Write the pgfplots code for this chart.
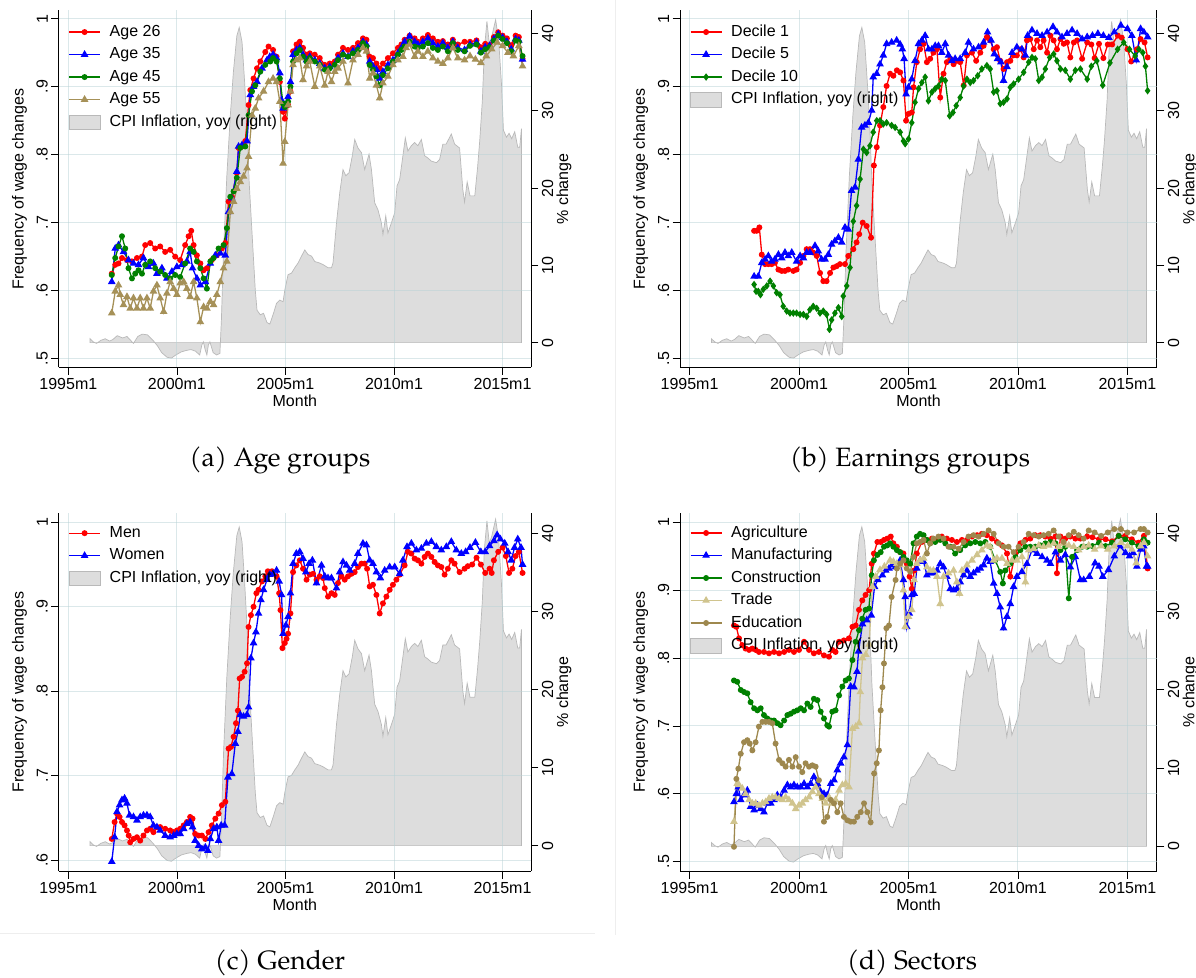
\documentclass[border=0pt]{standalone}
\usepackage{fontspec}
\setmainfont{Liberation Sans}
\newfontfamily\capfont{TeX Gyre Pagella}
\usepackage{pgfplots}
\usepackage{pgfplotstable}
\pgfplotsset{compat=1.18}
\newcommand{\basefnt}{\fontsize{16}{19}\selectfont}
\definecolor{sred}{RGB}{255,0,0}
\definecolor{sblue}{RGB}{0,0,255}
\definecolor{sgreen}{RGB}{0,128,0}
\definecolor{ssand}{RGB}{166,145,88}
\definecolor{strade}{RGB}{208,196,142}
\definecolor{sedu}{RGB}{158,136,78}
\definecolor{cpifill}{RGB}{221,221,221}
\definecolor{cpiline}{RGB}{185,185,185}
\definecolor{gridc}{RGB}{185,210,214}
\definecolor{sepc}{RGB}{238,238,238}

\pgfplotstableread{
t v
1996.00 0.5
1996.15 0.1
1996.30 -0.1
1996.50 0.3
1996.70 0.5
1996.90 0.2
1997.05 0.4
1997.25 0.9
1997.50 0.6
1997.70 0.8
1997.90 0.2
1998.00 -0.1
1998.20 0.8
1998.40 1.1
1998.65 1.0
1998.90 0.3
1999.10 -0.4
1999.30 -1.3
1999.55 -1.9
1999.75 -2.0
1999.95 -1.6
2000.20 -1.2
2000.45 -1.0
2000.65 -0.9
2000.85 -1.1
2001.05 -1.6
2001.15 -0.3
2001.22 0.1
2001.30 -0.9
2001.38 -1.6
2001.45 -0.3
2001.52 0.1
2001.67 -1.3
2001.83 -1.6
2001.98 -1.4
2002.05 3
2002.15 12
2002.30 21.6
2002.46 29.4
2002.60 35
2002.76 39.7
2002.87 40.8
2003.00 38.9
2003.12 33.7
2003.23 28.1
2003.33 20.7
2003.46 14.2
2003.61 6.8
2003.69 4.2
2003.84 3.6
2003.99 3.8
2004.15 2.6
2004.28 2.4
2004.45 3.8
2004.59 5.1
2004.74 5.5
2004.89 5.3
2004.97 6.8
2005.12 8.8
2005.28 9.0
2005.43 9.7
2005.58 10.3
2005.74 11.2
2005.89 12.0
2006.04 11.4
2006.20 11.2
2006.35 10.5
2006.58 10.3
2006.73 10.1
2006.96 9.7
2007.12 9.7
2007.19 10.3
2007.35 15.5
2007.50 19.4
2007.65 22.4
2007.78 21.6
2007.93 22.0
2008.08 24.2
2008.19 26.3
2008.34 25.2
2008.50 24.6
2008.65 22.4
2008.85 24.4
2008.96 22.4
2009.11 18.1
2009.26 17.2
2009.42 15.5
2009.49 14.0
2009.62 16.4
2009.72 14.2
2009.88 15.5
2010.03 16.8
2010.14 20.3
2010.26 21.1
2010.41 24.2
2010.52 26.5
2010.64 24.8
2010.80 25.5
2010.95 25.9
2011.10 25.5
2011.26 26.3
2011.41 24.2
2011.56 23.9
2011.72 23.5
2011.95 23.3
2012.10 23.7
2012.25 25.7
2012.40 25.7
2012.64 27.0
2012.79 25.7
2013.02 25.2
2013.17 19.8
2013.25 18.2
2013.37 20.8
2013.50 19.0
2013.72 19.0
2013.85 22.7
2013.95 26.2
2014.07 31.4
2014.16 37.9
2014.28 41.6
2014.39 38.7
2014.50 39.6
2014.68 41.8
2014.82 39.2
2014.95 33.5
2015.04 27.5
2015.18 26.6
2015.30 27.1
2015.42 26.4
2015.56 27.3
2015.70 25.3
2015.79 25.3
2015.87 27.7
}\cpidata

\pgfplotsset{
  common/.style={scale only axis, xmin=1994.56, xmax=2016.31,
    tick align=outside, major tick length=7.5pt,
    tick style={black, line width=0.8pt},
    axis line style={black, line width=0.9pt},
    font=\basefnt, tick label style={font=\basefnt}, label style={font=\basefnt}},
  mainax/.style={common, axis x line*=bottom, axis y line*=left,
    xtick={1995,2000,2005,2010,2015},
    xticklabels={1995m1,2000m1,2005m1,2010m1,2015m1},
    grid=major, major grid style={draw=gridc, draw opacity=0.5, line width=1pt},
    yticklabel style={rotate=90, anchor=south},
    xlabel={Month}, ylabel={Frequency of wage changes},
    xlabel style={at={(axis description cs:0.5,-0.093)}, anchor=center},
    ylabel style={at={(axis description cs:-0.083,0.5)}, anchor=center},
    legend style={draw=none, fill=none, font=\basefnt,
      at={(axis description cs:0.02,0.961)}, anchor=north west,
      row sep=7.6pt, inner sep=0pt,
      nodes={inner sep=0pt, text height=11.5pt, text depth=3.4pt},
      /tikz/every odd column/.append style={column sep=9pt}},
    legend cell align=left,
    legend image code/.code={\draw[mark repeat=2,mark phase=2,##1] plot coordinates {(0pt,0pt) (15.5pt,0pt) (31pt,0pt)};},
  },
  cpiax/.style={common, axis x line=none, axis y line*=right,
    ytick={0,10,20,30,40}, yticklabels={0,10,20,30,40},
    yticklabel style={rotate=90, anchor=north},
    ylabel={\% change},
    ylabel style={at={(axis description cs:1.07,0.5)}, anchor=center}},
  cpiplot/.style={fill=cpifill, draw=cpiline, line width=0.7pt},
  cpilegend/.style={legend image code/.code={\draw[fill=cpifill, draw=cpiline, line width=0.9pt] (0pt,-7.3pt) rectangle (31pt,7.3pt);}},
  ser/.style={line width=1.3pt, mark options={solid}},
  pc/.style={ser, color=#1, mark=*, mark size=2.3pt},
  pt/.style={ser, color=#1, mark=triangle*, mark size=3.2pt},
  pd/.style={ser, color=#1, mark=diamond*, mark size=2.7pt},
}

\begin{document}
\begin{tikzpicture}
\useasboundingbox (0pt,0pt) rectangle (1196pt,977pt);
\fill[white] (0pt,0pt) rectangle (1196pt,977pt);
\draw[sepc, line width=1pt] (615pt,977pt) -- (615pt,42pt);
\draw[sepc, line width=1pt] (0pt,44pt) -- (595pt,44pt);

% ================= Panel (a) =================
\begin{axis}[cpiax, at={(58.8pt,609.5pt)}, anchor=south west, width=472.2pt, height=357pt, ymin=-3.22, ymax=43.0]
\addplot[cpiplot] table[x=t,y=v]{\cpidata} \closedcycle;
\end{axis}
\begin{axis}[mainax, at={(58.8pt,609.5pt)}, anchor=south west, width=472.2pt, height=357pt,
  ymin=0.487, ymax=1.012, ytick={0.5,0.6,0.7,0.8,0.9,1}, yticklabels={.5,.6,.7,.8,.9,1}]
\addplot[pc=sred] coordinates {(1997.00,.625) (1997.16,.638) (1997.31,.640) (1997.47,.648) (1997.70,.645) (1997.93,.643) (1998.16,.648) (1998.39,.650) (1998.54,.667) (1998.77,.670) (1999.00,.662) (1999.23,.665) (1999.46,.657) (1999.69,.660) (1999.92,.650) (2000.15,.645) (2000.38,.667) (2000.54,.680) (2000.66,.688) (2000.77,.667) (2000.92,.652) (2001.08,.640) (2001.23,.630) (2001.38,.633) (2001.61,.645) (2001.84,.652) (2002.07,.662) (2002.23,.670) (2002.38,.731) (2002.53,.738) (2002.76,.773) (2002.84,.810) (2003.00,.812) (2003.15,.820) (2003.30,.873) (2003.38,.895) (2003.53,.912) (2003.69,.927) (2003.84,.937) (2004.07,.951) (2004.22,.959) (2004.43,.954) (2004.59,.944) (2004.74,.907) (2004.89,.863) (2004.97,.853) (2005.12,.873) (2005.23,.893) (2005.35,.952) (2005.51,.962) (2005.66,.966) (2005.81,.957) (2005.97,.947) (2006.12,.949) (2006.35,.947) (2006.58,.942) (2006.81,.932) (2007.04,.934) (2007.27,.937) (2007.42,.947) (2007.65,.957) (2007.88,.954) (2008.11,.957) (2008.34,.964) (2008.57,.971) (2008.73,.969) (2008.88,.944) (2009.03,.942) (2009.19,.934) (2009.34,.927) (2009.49,.934) (2009.72,.942) (2009.95,.949) (2010.18,.957) (2010.34,.962) (2010.49,.969) (2010.72,.975) (2010.95,.971) (2011.10,.966) (2011.33,.971) (2011.56,.976) (2011.79,.971) (2012.02,.966) (2012.25,.967) (2012.48,.962) (2012.71,.969) (2012.94,.962) (2013.25,.966) (2013.50,.966) (2013.80,.968) (2014.00,.958) (2014.20,.963) (2014.40,.961) (2014.60,.973) (2014.80,.980) (2015.00,.975) (2015.20,.971) (2015.40,.961) (2015.60,.975) (2015.75,.973) (2015.92,.941)};
\addlegendentry{Age 26}
\addplot[pt=sblue] coordinates {(1997.00,.613) (1997.16,.662) (1997.31,.667) (1997.54,.657) (1997.77,.645) (1998.00,.640) (1998.23,.638) (1998.46,.648) (1998.69,.635) (1998.92,.640) (1999.08,.625) (1999.31,.633) (1999.54,.618) (1999.77,.628) (2000.00,.635) (2000.23,.638) (2000.46,.643) (2000.61,.657) (2000.72,.633) (2000.92,.618) (2001.08,.608) (2001.31,.613) (2001.54,.640) (2001.77,.652) (2002.00,.655) (2002.23,.652) (2002.38,.716) (2002.53,.736) (2002.76,.775) (2002.84,.812) (2003.00,.814) (2003.23,.820) (2003.38,.888) (2003.53,.900) (2003.69,.907) (2003.92,.927) (2004.15,.939) (2004.28,.944) (2004.43,.947) (2004.59,.942) (2004.74,.920) (2004.82,.880) (2004.89,.868) (2004.97,.873) (2005.12,.885) (2005.23,.907) (2005.35,.947) (2005.51,.954) (2005.66,.957) (2005.81,.947) (2005.97,.939) (2006.12,.944) (2006.35,.939) (2006.58,.934) (2006.81,.927) (2007.04,.929) (2007.27,.932) (2007.42,.942) (2007.65,.949) (2007.88,.944) (2008.11,.952) (2008.34,.957) (2008.57,.966) (2008.73,.962) (2008.88,.937) (2009.03,.930) (2009.19,.925) (2009.34,.912) (2009.49,.922) (2009.72,.932) (2009.95,.939) (2010.18,.949) (2010.34,.957) (2010.49,.966) (2010.72,.974) (2010.95,.966) (2011.10,.962) (2011.33,.966) (2011.56,.971) (2011.79,.964) (2012.02,.959) (2012.25,.964) (2012.48,.957) (2012.71,.966) (2012.94,.957) (2013.25,.954) (2013.50,.962) (2013.80,.965) (2014.00,.952) (2014.20,.958) (2014.40,.960) (2014.60,.970) (2014.80,.977) (2015.00,.972) (2015.20,.966) (2015.40,.955) (2015.60,.970) (2015.75,.968) (2015.92,.940)};
\addlegendentry{Age 35}
\addplot[pc=sgreen] coordinates {(1997.00,.623) (1997.16,.648) (1997.31,.665) (1997.47,.680) (1997.62,.662) (1997.77,.633) (1997.93,.618) (1998.08,.625) (1998.23,.630) (1998.39,.625) (1998.54,.638) (1998.77,.643) (1999.00,.633) (1999.23,.628) (1999.46,.623) (1999.69,.618) (1999.92,.623) (2000.15,.620) (2000.38,.640) (2000.61,.662) (2000.77,.657) (2000.92,.643) (2001.08,.633) (2001.23,.618) (2001.38,.603) (2001.54,.643) (2001.69,.648) (2001.92,.662) (2002.15,.667) (2002.30,.692) (2002.46,.738) (2002.61,.746) (2002.76,.766) (2002.92,.810) (2003.15,.812) (2003.30,.858) (2003.46,.893) (2003.61,.902) (2003.84,.922) (2004.07,.932) (2004.30,.937) (2004.43,.942) (2004.59,.937) (2004.74,.912) (2004.89,.875) (2004.97,.870) (2005.12,.878) (2005.23,.900) (2005.35,.937) (2005.51,.949) (2005.66,.954) (2005.81,.944) (2005.97,.937) (2006.12,.942) (2006.35,.937) (2006.58,.932) (2006.81,.925) (2007.04,.927) (2007.27,.932) (2007.42,.939) (2007.65,.947) (2007.88,.944) (2008.11,.949) (2008.34,.954) (2008.57,.964) (2008.73,.959) (2008.88,.932) (2009.03,.925) (2009.19,.915) (2009.34,.902) (2009.49,.917) (2009.72,.927) (2009.95,.937) (2010.18,.947) (2010.34,.954) (2010.49,.959) (2010.72,.966) (2010.95,.959) (2011.10,.957) (2011.33,.959) (2011.56,.964) (2011.79,.957) (2012.02,.954) (2012.25,.959) (2012.48,.952) (2012.71,.964) (2012.94,.954) (2013.25,.952) (2013.50,.960) (2013.80,.962) (2014.00,.950) (2014.20,.955) (2014.40,.958) (2014.60,.968) (2014.80,.975) (2015.00,.970) (2015.20,.964) (2015.40,.952) (2015.60,.968) (2015.75,.966) (2015.92,.945)};
\addlegendentry{Age 45}
\addplot[pt=ssand] coordinates {(1997.00,.567) (1997.16,.599) (1997.31,.608) (1997.39,.594) (1997.54,.579) (1997.70,.591) (1997.85,.574) (1998.00,.589) (1998.16,.574) (1998.31,.589) (1998.46,.574) (1998.62,.589) (1998.77,.574) (1998.92,.599) (1999.08,.608) (1999.23,.589) (1999.39,.569) (1999.54,.596) (1999.69,.613) (1999.85,.603) (2000.00,.594) (2000.15,.611) (2000.31,.613) (2000.46,.603) (2000.61,.591) (2000.77,.613) (2000.92,.589) (2001.08,.554) (2001.23,.576) (2001.38,.574) (2001.54,.584) (2001.69,.579) (2001.84,.594) (2002.00,.613) (2002.15,.633) (2002.30,.643) (2002.46,.716) (2002.61,.731) (2002.76,.750) (2002.92,.760) (2003.07,.768) (2003.23,.780) (2003.30,.797) (2003.46,.858) (2003.61,.868) (2003.76,.883) (2003.99,.893) (2004.22,.907) (2004.43,.912) (2004.59,.907) (2004.74,.878) (2004.89,.787) (2004.97,.819) (2005.12,.873) (2005.23,.893) (2005.35,.932) (2005.51,.939) (2005.66,.942) (2005.81,.910) (2005.97,.930) (2006.12,.937) (2006.35,.900) (2006.58,.930) (2006.81,.902) (2006.96,.922) (2007.12,.907) (2007.27,.922) (2007.42,.927) (2007.65,.937) (2007.88,.905) (2008.11,.939) (2008.34,.947) (2008.57,.957) (2008.73,.952) (2008.88,.912) (2009.03,.920) (2009.19,.902) (2009.34,.883) (2009.49,.905) (2009.72,.915) (2009.95,.932) (2010.18,.939) (2010.41,.944) (2010.56,.957) (2010.72,.962) (2010.95,.944) (2011.10,.952) (2011.33,.944) (2011.56,.952) (2011.79,.942) (2012.02,.937) (2012.25,.934) (2012.48,.942) (2012.71,.957) (2012.94,.942) (2013.25,.939) (2013.50,.945) (2013.75,.940) (2014.00,.935) (2014.25,.945) (2014.50,.955) (2014.75,.965) (2015.00,.960) (2015.25,.950) (2015.50,.945) (2015.75,.960) (2015.92,.930)};
\addlegendentry{Age 55}
\addlegendimage{cpilegend}
\addlegendentry{CPI Inflation, yoy (right)}
\end{axis}

% ================= Panel (b) =================
\begin{axis}[cpiax, at={(680.2pt,609.5pt)}, anchor=south west, width=476.6pt, height=357pt, xmin=1994.575, xmax=2016.34, ymin=-3.22, ymax=43.0]
\addplot[cpiplot] table[x=t,y=v]{\cpidata} \closedcycle;
\end{axis}
\begin{axis}[mainax, at={(680.2pt,609.5pt)}, anchor=south west, width=476.6pt, height=357pt, xmin=1994.575, xmax=2016.34,
  ymin=0.487, ymax=1.012, ytick={0.5,0.6,0.7,0.8,0.9,1}, yticklabels={.5,.6,.7,.8,.9,1}]
\addplot[pc=sred] coordinates {(1997.95,.688) (1998.07,.688) (1998.19,.693) (1998.30,.653) (1998.45,.639) (1998.60,.639) (1998.75,.639) (1998.90,.641) (1999.06,.631) (1999.21,.629) (1999.36,.629) (1999.51,.631) (1999.74,.629) (1999.89,.631) (2000.05,.641) (2000.20,.651) (2000.35,.661) (2000.50,.661) (2000.65,.656) (2000.81,.651) (2000.96,.626) (2001.11,.614) (2001.26,.614) (2001.42,.626) (2001.57,.634) (2001.72,.636) (2001.87,.639) (2002.10,.639) (2002.25,.651) (2002.48,.661) (2002.63,.671) (2002.75,.683) (2002.91,.700) (2003.09,.695) (2003.29,.678) (2003.42,.784) (2003.55,.811) (2003.70,.843) (2003.85,.870) (2004.00,.901) (2004.16,.919) (2004.31,.916) (2004.47,.924) (2004.62,.921) (2004.77,.909) (2004.89,.850) (2005.00,.860) (2005.15,.862) (2005.23,.899) (2005.38,.936) (2005.53,.955) (2005.69,.963) (2005.84,.936) (2005.99,.941) (2006.14,.950) (2006.30,.955) (2006.45,.884) (2006.60,.919) (2006.75,.936) (2006.91,.941) (2007.06,.933) (2007.21,.938) (2007.36,.936) (2007.52,.902) (2007.67,.946) (2007.90,.950) (2008.09,.938) (2008.28,.950) (2008.43,.960) (2008.58,.973) (2008.73,.968) (2008.89,.955) (2009.04,.958) (2009.19,.938) (2009.34,.926) (2009.50,.936) (2009.65,.938) (2009.80,.946) (2009.95,.946) (2010.11,.955) (2010.26,.943) (2010.41,.968) (2010.56,.970) (2010.72,.955) (2010.87,.968) (2011.02,.958) (2011.17,.968) (2011.33,.950) (2011.48,.975) (2011.63,.968) (2011.78,.955) (2011.94,.970) (2012.09,.963) (2012.24,.965) (2012.39,.943) (2012.55,.965) (2012.70,.968) (2012.93,.941) (2013.16,.965) (2013.35,.962) (2013.50,.942) (2013.70,.963) (2013.90,.942) (2014.10,.962) (2014.30,.962) (2014.56,.975) (2014.74,.972) (2015.00,.955) (2015.17,.937) (2015.43,.955) (2015.60,.970) (2015.78,.965) (2015.92,.943)};
\addlegendentry{Decile 1}
\addplot[pt=sblue] coordinates {(1997.95,.621) (1998.14,.621) (1998.30,.641) (1998.45,.646) (1998.60,.651) (1998.75,.643) (1998.90,.646) (1999.06,.653) (1999.21,.648) (1999.36,.656) (1999.51,.651) (1999.67,.656) (1999.89,.643) (2000.05,.651) (2000.20,.648) (2000.35,.656) (2000.50,.656) (2000.73,.666) (2000.88,.658) (2001.03,.646) (2001.19,.646) (2001.34,.653) (2001.49,.668) (2001.64,.673) (2001.80,.678) (2001.95,.671) (2002.10,.693) (2002.25,.690) (2002.40,.747) (2002.56,.752) (2002.71,.793) (2002.86,.840) (2003.01,.843) (2003.17,.847) (2003.32,.865) (2003.39,.914) (2003.55,.919) (2003.70,.933) (2003.85,.946) (2004.00,.963) (2004.23,.965) (2004.46,.968) (2004.62,.962) (2004.72,.955) (2004.80,.941) (2004.89,.889) (2005.00,.899) (2005.15,.911) (2005.30,.938) (2005.46,.963) (2005.61,.968) (2005.76,.975) (2005.91,.955) (2006.07,.955) (2006.22,.960) (2006.37,.960) (2006.52,.950) (2006.68,.963) (2006.83,.946) (2006.98,.938) (2007.13,.941) (2007.36,.941) (2007.59,.950) (2007.74,.965) (2007.97,.955) (2008.20,.958) (2008.43,.965) (2008.61,.980) (2008.77,.968) (2008.92,.948) (2009.07,.941) (2009.22,.936) (2009.34,.909) (2009.50,.929) (2009.73,.950) (2009.95,.958) (2010.18,.955) (2010.34,.946) (2010.44,.975) (2010.64,.983) (2010.87,.978) (2011.10,.975) (2011.33,.980) (2011.60,.988) (2011.78,.980) (2012.01,.973) (2012.24,.978) (2012.47,.983) (2012.70,.978) (2012.93,.970) (2013.16,.973) (2013.40,.975) (2013.65,.978) (2013.90,.975) (2014.15,.972) (2014.40,.980) (2014.70,.990) (2015.00,.985) (2015.20,.975) (2015.40,.939) (2015.60,.985) (2015.75,.980) (2015.92,.973)};
\addlegendentry{Decile 5}
\addplot[pd=sgreen] coordinates {(1997.95,.609) (1998.04,.599) (1998.14,.599) (1998.24,.594) (1998.37,.602) (1998.53,.607) (1998.68,.614) (1998.83,.607) (1998.98,.597) (1999.13,.594) (1999.28,.577) (1999.44,.570) (1999.59,.567) (1999.74,.567) (1999.89,.567) (2000.05,.565) (2000.20,.565) (2000.35,.562) (2000.50,.572) (2000.65,.577) (2000.81,.574) (2000.96,.567) (2001.11,.570) (2001.26,.565) (2001.39,.543) (2001.49,.557) (2001.64,.567) (2001.80,.575) (2001.95,.562) (2002.02,.592) (2002.18,.607) (2002.33,.634) (2002.48,.702) (2002.63,.725) (2002.79,.764) (2002.94,.808) (2003.09,.803) (2003.24,.813) (2003.39,.833) (2003.55,.850) (2003.70,.850) (2003.85,.845) (2004.00,.847) (2004.23,.843) (2004.39,.840) (2004.62,.833) (2004.77,.820) (2004.85,.816) (2005.00,.823) (2005.15,.847) (2005.30,.877) (2005.46,.897) (2005.61,.906) (2005.76,.914) (2005.91,.879) (2006.07,.892) (2006.22,.897) (2006.37,.901) (2006.52,.911) (2006.68,.909) (2006.88,.857) (2007.03,.862) (2007.18,.872) (2007.36,.884) (2007.52,.901) (2007.67,.911) (2007.82,.906) (2007.97,.909) (2008.16,.916) (2008.35,.926) (2008.58,.931) (2008.73,.926) (2008.89,.892) (2009.04,.894) (2009.19,.875) (2009.34,.877) (2009.50,.882) (2009.65,.899) (2009.80,.904) (2010.03,.911) (2010.26,.921) (2010.49,.936) (2010.64,.943) (2010.79,.941) (2010.95,.909) (2011.10,.914) (2011.25,.926) (2011.45,.943) (2011.63,.948) (2011.78,.938) (2011.94,.926) (2012.16,.924) (2012.39,.911) (2012.62,.924) (2012.85,.926) (2013.16,.911) (2013.35,.930) (2013.60,.938) (2013.87,.902) (2014.20,.935) (2014.55,.955) (2014.83,.965) (2015.09,.955) (2015.35,.945) (2015.52,.955) (2015.70,.950) (2015.82,.930) (2015.92,.894)};
\addlegendentry{Decile 10}
\addlegendimage{cpilegend}
\addlegendentry{CPI Inflation, yoy (right)}
\end{axis}

% ================= Panel (c) =================
\begin{axis}[cpiax, at={(58.8pt,106pt)}, anchor=south west, width=472.2pt, height=358pt, ymin=-3.25, ymax=42.6]
\addplot[cpiplot] table[x=t,y=v]{\cpidata} \closedcycle;
\end{axis}
\begin{axis}[mainax, at={(58.8pt,106pt)}, anchor=south west, width=472.2pt, height=358pt,
  ymin=0.587, ymax=1.011, ytick={0.6,0.7,0.8,0.9,1}, yticklabels={.6,.7,.8,.9,1},
  legend style={at={(axis description cs:0.02,0.965)}}]
\addplot[pc=sred] coordinates {(1997.00,.625) (1997.13,.645) (1997.24,.655) (1997.36,.651) (1997.47,.645) (1997.59,.641) (1997.70,.635) (1997.78,.629) (1997.85,.621) (1998.00,.625) (1998.16,.627) (1998.31,.623) (1998.46,.629) (1998.62,.635) (1998.77,.637) (1998.92,.633) (1999.08,.639) (1999.23,.639) (1999.46,.637) (1999.69,.635) (1999.85,.633) (2000.00,.635) (2000.15,.637) (2000.31,.641) (2000.46,.645) (2000.61,.651) (2000.72,.649) (2000.84,.631) (2001.00,.629) (2001.15,.629) (2001.31,.625) (2001.46,.633) (2001.61,.641) (2001.77,.649) (2001.92,.655) (2002.07,.665) (2002.23,.669) (2002.38,.732) (2002.49,.734) (2002.61,.746) (2002.72,.762) (2002.81,.777) (2002.89,.815) (2003.00,.817) (2003.12,.823) (2003.23,.833) (2003.30,.876) (2003.41,.890) (2003.53,.900) (2003.66,.916) (2003.76,.920) (2003.92,.930) (2004.07,.936) (2004.19,.942) (2004.38,.942) (2004.59,.936) (2004.71,.916) (2004.77,.896) (2004.86,.851) (2004.97,.857) (2005.05,.862) (2005.12,.868) (2005.23,.892) (2005.35,.941) (2005.50,.949) (2005.66,.955) (2005.81,.945) (2005.97,.932) (2006.12,.938) (2006.27,.939) (2006.43,.932) (2006.58,.936) (2006.73,.934) (2006.81,.922) (2006.96,.912) (2007.12,.916) (2007.27,.914) (2007.42,.928) (2007.58,.936) (2007.73,.932) (2007.88,.936) (2008.04,.939) (2008.19,.941) (2008.34,.947) (2008.50,.951) (2008.65,.951) (2008.76,.945) (2008.88,.924) (2009.03,.926) (2009.19,.914) (2009.34,.892) (2009.49,.904) (2009.65,.912) (2009.80,.920) (2009.95,.926) (2010.11,.932) (2010.26,.938) (2010.49,.949) (2010.64,.965) (2010.80,.963) (2010.95,.957) (2011.10,.955) (2011.26,.951) (2011.41,.959) (2011.56,.963) (2011.72,.959) (2011.87,.953) (2012.02,.949) (2012.18,.947) (2012.33,.938) (2012.48,.945) (2012.64,.955) (2012.79,.951) (2013.02,.941) (2013.25,.945) (2013.40,.948) (2013.60,.950) (2013.80,.958) (2014.00,.950) (2014.20,.940) (2014.40,.945) (2014.50,.940) (2014.60,.955) (2014.80,.965) (2015.00,.970) (2015.15,.960) (2015.30,.940) (2015.45,.945) (2015.60,.960) (2015.75,.965) (2015.92,.940)};
\addlegendentry{Men}
\addplot[pt=sblue] coordinates {(1997.00,.598) (1997.13,.627) (1997.24,.657) (1997.36,.665) (1997.47,.671) (1997.59,.673) (1997.70,.667) (1997.82,.653) (1998.00,.651) (1998.16,.647) (1998.31,.651) (1998.46,.653) (1998.62,.653) (1998.77,.651) (1998.92,.641) (1999.08,.639) (1999.23,.635) (1999.46,.629) (1999.69,.627) (1999.85,.629) (2000.00,.631) (2000.15,.631) (2000.31,.637) (2000.46,.643) (2000.61,.645) (2000.72,.639) (2000.84,.623) (2001.00,.617) (2001.15,.613) (2001.31,.615) (2001.43,.611) (2001.54,.625) (2001.69,.637) (2001.84,.639) (2001.92,.623) (2002.04,.641) (2002.20,.641) (2002.35,.698) (2002.53,.702) (2002.69,.738) (2002.81,.752) (2002.92,.772) (2003.07,.770) (2003.23,.772) (2003.30,.781) (2003.41,.839) (2003.53,.857) (2003.64,.870) (2003.76,.892) (2003.87,.908) (2003.99,.920) (2004.15,.932) (2004.28,.938) (2004.43,.939) (2004.59,.943) (2004.71,.930) (2004.82,.914) (2004.89,.868) (2005.02,.878) (2005.12,.888) (2005.23,.916) (2005.35,.951) (2005.50,.963) (2005.66,.965) (2005.81,.957) (2005.94,.941) (2006.09,.951) (2006.24,.955) (2006.43,.928) (2006.66,.949) (2006.81,.936) (2006.96,.934) (2007.12,.934) (2007.35,.922) (2007.50,.941) (2007.65,.953) (2007.81,.949) (2007.96,.943) (2008.19,.951) (2008.34,.963) (2008.57,.975) (2008.73,.973) (2008.88,.955) (2009.03,.951) (2009.19,.941) (2009.37,.934) (2009.57,.943) (2009.80,.947) (2010.03,.947) (2010.26,.939) (2010.41,.955) (2010.60,.971) (2010.80,.975) (2011.03,.967) (2011.26,.969) (2011.49,.975) (2011.72,.977) (2011.95,.971) (2012.18,.967) (2012.41,.971) (2012.64,.977) (2012.87,.967) (2013.10,.963) (2013.30,.965) (2013.50,.970) (2013.75,.976) (2014.00,.965) (2014.20,.965) (2014.40,.972) (2014.60,.978) (2014.75,.985) (2014.90,.980) (2015.10,.975) (2015.25,.965) (2015.40,.955) (2015.55,.970) (2015.70,.980) (2015.85,.970) (2015.92,.950)};
\addlegendentry{Women}
\addlegendimage{cpilegend}
\addlegendentry{CPI Inflation, yoy (right)}
\end{axis}

% ================= Panel (d) =================
\begin{axis}[cpiax, at={(680.2pt,105.8pt)}, anchor=south west, width=476.6pt, height=358.4pt, xmin=1994.575, xmax=2016.34, ymin=-3.17, ymax=42.6]
\addplot[cpiplot] table[x=t,y=v]{\cpidata} \closedcycle;
\end{axis}
\begin{axis}[mainax, at={(680.2pt,105.8pt)}, anchor=south west, width=476.6pt, height=358.4pt, xmin=1994.575, xmax=2016.34,
  ymin=0.486, ymax=1.014, ytick={0.5,0.6,0.7,0.8,0.9,1}, yticklabels={.5,.6,.7,.8,.9,1},
  legend style={at={(axis description cs:0.02,0.965)}}]
\addplot[pc=sred] coordinates {(1997.03,.848) (1997.14,.846) (1997.26,.829) (1997.41,.819) (1997.56,.814) (1997.72,.812) (1997.87,.814) (1998.02,.812) (1998.17,.809) (1998.40,.809) (1998.63,.807) (1998.86,.809) (1999.09,.807) (1999.32,.809) (1999.54,.812) (1999.77,.809) (2000.00,.812) (2000.23,.824) (2000.46,.812) (2000.68,.807) (2000.91,.809) (2001.14,.804) (2001.37,.802) (2001.52,.812) (2001.67,.809) (2001.83,.824) (2002.05,.826) (2002.28,.829) (2002.44,.846) (2002.59,.848) (2002.74,.871) (2002.89,.885) (2003.04,.893) (2003.20,.900) (2003.32,.939) (2003.42,.954) (2003.58,.971) (2003.73,.971) (2003.88,.974) (2004.03,.976) (2004.19,.979) (2004.31,.969) (2004.47,.964) (2004.62,.956) (2004.77,.954) (2004.92,.939) (2005.05,.920) (2005.15,.902) (2005.26,.929) (2005.38,.954) (2005.61,.971) (2005.84,.974) (2006.07,.976) (2006.30,.974) (2006.52,.979) (2006.75,.976) (2006.98,.974) (2007.21,.971) (2007.44,.974) (2007.67,.974) (2007.90,.979) (2008.13,.981) (2008.35,.983) (2008.58,.981) (2008.81,.976) (2009.04,.971) (2009.27,.966) (2009.50,.954) (2009.65,.920) (2009.88,.954) (2010.11,.969) (2010.34,.974) (2010.56,.976) (2010.79,.981) (2011.02,.981) (2011.25,.979) (2011.48,.976) (2011.71,.979) (2011.78,.925) (2011.94,.979) (2012.16,.976) (2012.39,.979) (2012.62,.976) (2012.85,.976) (2013.16,.979) (2013.40,.978) (2013.70,.975) (2014.00,.975) (2014.30,.972) (2014.60,.980) (2014.90,.980) (2015.20,.975) (2015.50,.970) (2015.75,.980) (2015.92,.932)};
\addlegendentry{Agriculture}
\addplot[pt=sblue] coordinates {(1997.03,.588) (1997.14,.600) (1997.23,.610) (1997.34,.591) (1997.49,.598) (1997.64,.605) (1997.79,.581) (1997.95,.576) (1998.10,.583) (1998.25,.578) (1998.40,.573) (1998.55,.586) (1998.71,.586) (1998.86,.591) (1999.01,.598) (1999.16,.595) (1999.32,.605) (1999.47,.613) (1999.62,.610) (1999.77,.613) (1999.92,.610) (2000.08,.610) (2000.23,.615) (2000.38,.610) (2000.53,.615) (2000.68,.625) (2000.84,.615) (2000.99,.603) (2001.14,.600) (2001.29,.598) (2001.45,.615) (2001.60,.620) (2001.75,.635) (2001.90,.645) (2002.05,.654) (2002.21,.672) (2002.36,.758) (2002.51,.757) (2002.65,.780) (2002.72,.810) (2002.90,.850) (2003.09,.856) (2003.30,.863) (2003.45,.905) (2003.60,.915) (2003.81,.922) (2003.96,.929) (2004.11,.932) (2004.26,.937) (2004.41,.934) (2004.47,.937) (2004.62,.944) (2004.77,.915) (2004.85,.890) (2004.92,.846) (2005.03,.866) (2005.15,.893) (2005.26,.895) (2005.38,.932) (2005.53,.944) (2005.69,.942) (2005.84,.922) (2005.99,.925) (2006.14,.925) (2006.30,.929) (2006.45,.939) (2006.60,.934) (2006.75,.920) (2006.91,.902) (2007.06,.900) (2007.21,.902) (2007.36,.912) (2007.52,.922) (2007.67,.929) (2007.82,.920) (2007.97,.925) (2008.13,.929) (2008.28,.932) (2008.43,.937) (2008.58,.947) (2008.73,.942) (2008.89,.910) (2009.04,.895) (2009.19,.875) (2009.34,.844) (2009.50,.861) (2009.65,.880) (2009.80,.905) (2009.95,.920) (2010.18,.927) (2010.41,.939) (2010.64,.959) (2010.87,.954) (2011.10,.949) (2011.33,.944) (2011.48,.939) (2011.71,.956) (2011.94,.944) (2012.16,.952) (2012.39,.934) (2012.62,.949) (2012.85,.915) (2013.00,.915) (2013.26,.920) (2013.52,.940) (2013.70,.935) (2013.87,.920) (2014.13,.930) (2014.40,.950) (2014.65,.965) (2014.91,.955) (2015.09,.950) (2015.26,.955) (2015.43,.935) (2015.60,.960) (2015.74,.965) (2015.87,.935) (2015.92,.935)};
\addlegendentry{Manufacturing}
\addplot[pc=sgreen] coordinates {(1997.03,.767) (1997.18,.765) (1997.34,.753) (1997.49,.750) (1997.64,.748) (1997.79,.735) (1997.95,.726) (1998.10,.723) (1998.25,.726) (1998.40,.716) (1998.55,.711) (1998.71,.708) (1998.86,.708) (1999.01,.704) (1999.16,.701) (1999.32,.708) (1999.47,.716) (1999.62,.718) (1999.77,.721) (1999.92,.723) (2000.08,.726) (2000.23,.723) (2000.38,.733) (2000.53,.728) (2000.68,.740) (2000.84,.738) (2000.99,.721) (2001.14,.711) (2001.29,.701) (2001.37,.699) (2001.52,.721) (2001.67,.723) (2001.83,.745) (2001.98,.758) (2002.13,.767) (2002.28,.770) (2002.44,.797) (2002.59,.824) (2002.74,.841) (2002.89,.858) (2003.04,.871) (2003.20,.873) (2003.32,.922) (2003.42,.944) (2003.58,.952) (2003.73,.956) (2003.88,.964) (2004.03,.966) (2004.16,.969) (2004.31,.964) (2004.47,.959) (2004.62,.956) (2004.77,.949) (2004.92,.944) (2005.08,.939) (2005.23,.969) (2005.38,.979) (2005.53,.983) (2005.69,.981) (2005.84,.974) (2005.99,.969) (2006.22,.971) (2006.45,.974) (2006.68,.969) (2006.91,.964) (2007.13,.954) (2007.36,.959) (2007.59,.966) (2007.82,.969) (2008.05,.971) (2008.28,.969) (2008.51,.971) (2008.73,.964) (2008.96,.944) (2009.19,.927) (2009.31,.910) (2009.42,.929) (2009.65,.939) (2009.88,.949) (2010.11,.959) (2010.34,.964) (2010.56,.964) (2010.79,.964) (2011.02,.966) (2011.25,.969) (2011.48,.971) (2011.71,.969) (2011.94,.959) (2012.16,.964) (2012.32,.888) (2012.47,.949) (2012.70,.959) (2012.93,.964) (2013.16,.964) (2013.40,.965) (2013.70,.970) (2014.00,.965) (2014.30,.970) (2014.60,.980) (2014.90,.975) (2015.20,.970) (2015.50,.965) (2015.75,.975) (2015.92,.970)};
\addlegendentry{Construction}
\addplot[pt=strade] coordinates {(1997.03,.559) (1997.18,.615) (1997.26,.613) (1997.41,.608) (1997.56,.600) (1997.72,.591) (1997.87,.586) (1998.02,.586) (1998.17,.583) (1998.33,.586) (1998.48,.588) (1998.63,.593) (1998.78,.595) (1998.93,.595) (1999.09,.593) (1999.24,.591) (1999.39,.595) (1999.54,.591) (1999.70,.586) (1999.85,.578) (2000.00,.583) (2000.15,.586) (2000.30,.591) (2000.46,.595) (2000.61,.603) (2000.76,.610) (2000.91,.600) (2001.07,.593) (2001.22,.586) (2001.37,.595) (2001.52,.586) (2001.67,.591) (2001.83,.605) (2001.98,.613) (2002.13,.615) (2002.28,.610) (2002.44,.696) (2002.59,.699) (2002.74,.704) (2002.80,.750) (2002.90,.800) (2003.05,.805) (2003.20,.820) (2003.35,.905) (2003.50,.920) (2003.70,.930) (2003.90,.935) (2004.16,.944) (2004.31,.942) (2004.47,.939) (2004.62,.937) (2004.77,.900) (2004.85,.846) (2005.00,.861) (2005.15,.871) (2005.26,.915) (2005.38,.939) (2005.53,.944) (2005.69,.947) (2005.84,.934) (2005.99,.929) (2006.14,.929) (2006.30,.920) (2006.45,.880) (2006.60,.920) (2006.83,.925) (2007.06,.929) (2007.21,.912) (2007.33,.895) (2007.44,.929) (2007.67,.937) (2007.90,.944) (2008.13,.952) (2008.35,.959) (2008.58,.966) (2008.73,.964) (2008.89,.944) (2009.04,.947) (2009.27,.947) (2009.50,.939) (2009.73,.944) (2009.95,.944) (2010.18,.949) (2010.34,.912) (2010.49,.959) (2010.72,.961) (2010.95,.966) (2011.17,.964) (2011.40,.966) (2011.63,.969) (2011.86,.964) (2012.09,.969) (2012.32,.966) (2012.55,.964) (2012.77,.959) (2013.00,.964) (2013.23,.966) (2013.50,.960) (2013.80,.965) (2014.10,.960) (2014.40,.965) (2014.70,.970) (2015.00,.965) (2015.20,.960) (2015.40,.940) (2015.60,.965) (2015.75,.970) (2015.92,.950)};
\addlegendentry{Trade}
\addplot[pc=sedu] coordinates {(1997.03,.522) (1997.14,.622) (1997.23,.637) (1997.34,.659) (1997.49,.676) (1997.64,.679) (1997.75,.674) (1997.87,.664) (1998.02,.676) (1998.17,.699) (1998.33,.706) (1998.48,.706) (1998.63,.706) (1998.78,.704) (1998.93,.674) (1999.09,.650) (1999.24,.645) (1999.39,.640) (1999.54,.650) (1999.70,.640) (1999.85,.654) (2000.00,.640) (2000.15,.632) (2000.30,.645) (2000.46,.640) (2000.61,.642) (2000.76,.640) (2000.91,.620) (2001.04,.595) (2001.14,.559) (2001.29,.566) (2001.45,.591) (2001.60,.586) (2001.75,.573) (2001.90,.586) (2002.05,.566) (2002.21,.561) (2002.36,.559) (2002.51,.559) (2002.66,.566) (2002.82,.573) (2002.97,.586) (2003.12,.573) (2003.27,.558) (2003.43,.630) (2003.55,.645) (2003.65,.664) (2003.73,.723) (2003.81,.757) (2003.88,.792) (2003.99,.844) (2004.11,.848) (2004.23,.890) (2004.41,.915) (2004.47,.932) (2004.62,.939) (2004.77,.944) (2004.92,.932) (2005.08,.927) (2005.23,.949) (2005.38,.969) (2005.53,.971) (2005.69,.974) (2005.84,.954) (2005.99,.969) (2006.14,.976) (2006.37,.979) (2006.60,.976) (2006.83,.964) (2007.06,.964) (2007.29,.961) (2007.52,.971) (2007.74,.979) (2007.97,.981) (2008.20,.979) (2008.43,.983) (2008.66,.988) (2008.89,.983) (2009.12,.969) (2009.34,.964) (2009.57,.964) (2009.80,.956) (2010.03,.964) (2010.26,.971) (2010.49,.983) (2010.72,.981) (2010.95,.979) (2011.17,.981) (2011.40,.983) (2011.63,.988) (2011.86,.979) (2012.09,.971) (2012.32,.981) (2012.55,.986) (2012.77,.981) (2013.00,.976) (2013.23,.988) (2013.50,.985) (2013.80,.980) (2014.10,.985) (2014.40,.990) (2014.70,.990) (2015.00,.985) (2015.30,.985) (2015.60,.990) (2015.75,.990) (2015.92,.985)};
\addlegendentry{Education}
\addlegendimage{cpilegend}
\addlegendentry{CPI Inflation, yoy (right)}
\end{axis}

% ================= Captions =================
\node[font=\capfont\fontsize{26.5}{30}\selectfont] at (280pt,517pt) {(a) Age groups};
\node[font=\capfont\fontsize{26.5}{30}\selectfont] at (910pt,517pt) {(b) Earnings groups};
\node[font=\capfont\fontsize{26.5}{30}\selectfont] at (280pt,14pt) {(c) Gender};
\node[font=\capfont\fontsize{26.5}{30}\selectfont] at (912pt,14pt) {(d) Sectors};
\end{tikzpicture}
\end{document}
